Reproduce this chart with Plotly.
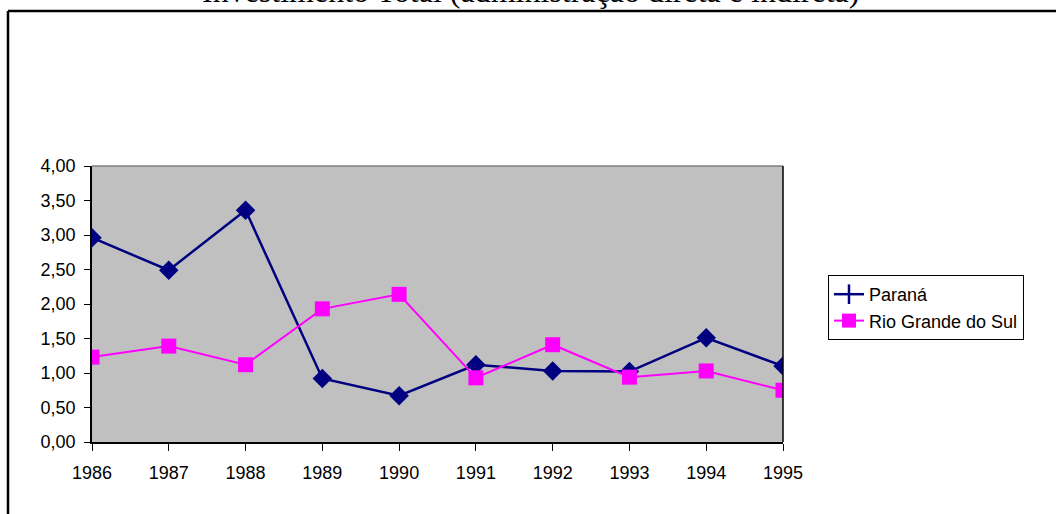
import plotly.graph_objects as go

years = [1986, 1987, 1988, 1989, 1990, 1991, 1992, 1993, 1994, 1995]
parana = [2.96, 2.49, 3.36, 0.92, 0.67, 1.12, 1.03, 1.02, 1.51, 1.10]
rio_grande_do_sul = [1.23, 1.39, 1.12, 1.93, 2.14, 0.93, 1.41, 0.94, 1.03, 0.75]
y_ticks = [0, 0.5, 1, 1.5, 2, 2.5, 3, 3.5, 4]
title_text = "Investimento Total (administração direta e indireta)"

W, H = 1056, 514
L, R, T, B = 92, 783, 166, 442


def px_x(p):
    return (p - L) / (R - L)


def px_y(p):
    return (B - p) / (B - T)


fig = go.Figure()

fig.add_trace(go.Scatter(
    x=years, y=parana, mode="lines+markers", name="Paraná",
    line=dict(color="#000080", width=2.5),
    marker=dict(symbol="diamond", size=15, color="#000080"),
    showlegend=False,
))
fig.add_trace(go.Scatter(
    x=years, y=rio_grande_do_sul, mode="lines+markers", name="Rio Grande do Sul",
    line=dict(color="#FF00FF", width=2),
    marker=dict(symbol="square", size=15, color="#FF00FF"),
    showlegend=False,
))
# legend entries
fig.add_trace(go.Scatter(
    x=[None], y=[None], mode="lines+markers", name="Paraná",
    line=dict(color="#000080", width=2.5),
    marker=dict(symbol="line-ns-open", size=14, color="#000080",
                line=dict(color="#000080", width=2.5)),
))
fig.add_trace(go.Scatter(
    x=[None], y=[None], mode="lines+markers", name="Rio Grande do Sul",
    line=dict(color="#FF00FF", width=2),
    marker=dict(symbol="square", size=14, color="#FF00FF"),
))

fig.update_layout(
    width=W, height=H,
    margin=dict(l=L, r=W - R, t=T, b=H - B, pad=0),
    paper_bgcolor="white",
    plot_bgcolor="#C0C0C0",
    separators=",.",
    font=dict(family="Liberation Sans, Arial, sans-serif", size=18, color="black"),
    showlegend=True,
    legend=dict(
        x=px_x(828), y=px_y(275), xanchor="left", yanchor="top",
        bordercolor="black", borderwidth=1, bgcolor="white",
        font=dict(size=18), tracegroupgap=0, itemwidth=30,
    ),
    xaxis=dict(
        range=[years[0], years[-1]], tickmode="array", tickvals=years,
        ticktext=[str(y) for y in years],
        showgrid=False, zeroline=False, showline=True, linecolor="black",
        linewidth=1.5, ticks="outside", ticklen=7, tickcolor="black",
        ticklabelstandoff=7,
    ),
    yaxis=dict(
        range=[0, 4], tickmode="array", tickvals=y_ticks, tickformat=".2f",
        showgrid=False, zeroline=False, showline=True, linecolor="black",
        linewidth=1.5, ticks="outside", ticklen=6, tickcolor="black",
        ticklabelstandoff=5,
    ),
    shapes=[
        dict(type="line", xref="paper", yref="paper", x0=0, x1=1, y0=1, y1=1,
             line=dict(color="#808080", width=1.5)),
        dict(type="line", xref="paper", yref="paper", x0=1, x1=1, y0=0, y1=1,
             line=dict(color="black", width=1.5)),
        # outer chart frame
        dict(type="line", xref="paper", yref="paper",
             x0=px_x(8), x1=px_x(1080), y0=px_y(11), y1=px_y(11),
             line=dict(color="black", width=2.5)),
        dict(type="line", xref="paper", yref="paper",
             x0=px_x(8), x1=px_x(8), y0=px_y(11), y1=px_y(540),
             line=dict(color="black", width=2.5)),
    ],
    annotations=[
        dict(text=title_text, xref="paper", yref="paper",
             x=px_x(530), y=px_y(-9), xanchor="center", yanchor="middle",
             showarrow=False,
             font=dict(family="Liberation Serif, Times New Roman, serif", size=32,
                       color="black")),
    ],
)

fig.write_html(
    "out.html",
    config={"displayModeBar": False},
    post_script="document.body.style.margin='0';document.body.style.overflow='hidden';",
)
